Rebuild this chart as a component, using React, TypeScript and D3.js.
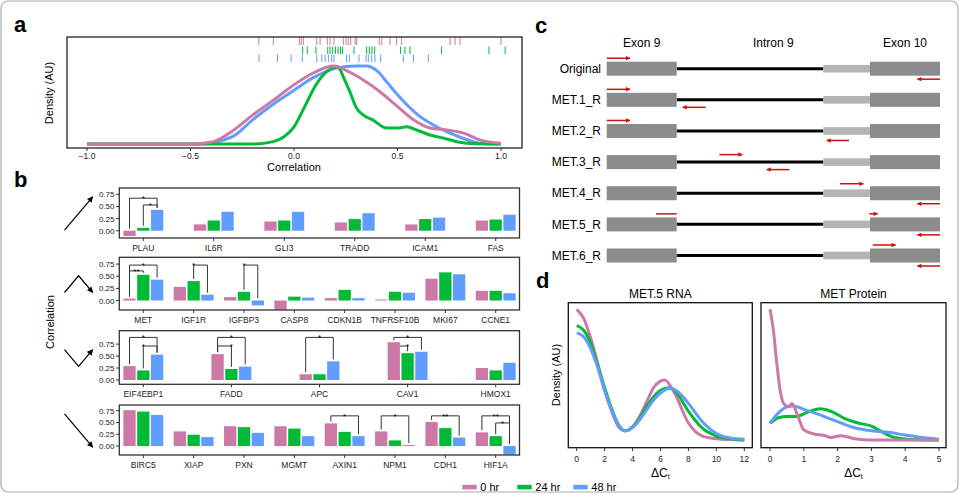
import React from "react";
import * as d3 from "d3";

const FONT = "Liberation Sans, Arial, Helvetica, sans-serif";
const seriesNames = ["0 hr", "24 hr", "48 hr"];
const seriesColors = ["#CC79A7", "#00BA38", "#619CFF"];

// ---- panel a: rug values and density curves (correlation, relative density)
const rug0 = [-0.17, -0.1, 0.026, 0.035, 0.045, 0.11, 0.126, 0.161, 0.174, 0.193, 0.238, 0.251, 0.262, 0.274, 0.295, 0.303, 0.412, 0.424, 0.464, 0.496, 0.52, 0.754, 0.778, 0.802, 1.0];
const rug24 = [0.042, 0.064, 0.106, 0.163, 0.174, 0.187, 0.2, 0.213, 0.225, 0.235, 0.29, 0.351, 0.364, 0.377, 0.39, 0.515, 0.536, 0.56, 0.713, 0.942, 1.02];
const rug48 = [-0.169, -0.08, -0.014, 0.04, 0.11, 0.134, 0.15, 0.166, 0.182, 0.193, 0.254, 0.267, 0.314, 0.348, 0.359, 0.375, 0.391, 0.419, 0.528, 0.577, 0.649];

const densA0: [number, number][] = [[-1, 0], [-0.5, 0], [-0.39, 0.03], [-0.29, 0.18], [-0.2, 0.37], [-0.1, 0.56], [0, 0.76], [0.1, 0.92], [0.19, 1.0], [0.27, 0.92], [0.335, 0.82], [0.415, 0.67], [0.496, 0.49], [0.577, 0.31], [0.657, 0.205], [0.738, 0.18], [0.82, 0.14], [0.9, 0.05], [1.0, 0.01]];
const densA24: [number, number][] = [[-1, 0], [-0.2, 0], [-0.1, 0.03], [-0.05, 0.09], [0, 0.22], [0.05, 0.47], [0.1, 0.73], [0.14, 0.88], [0.21, 0.99], [0.245, 0.82], [0.27, 0.67], [0.3, 0.47], [0.335, 0.37], [0.38, 0.31], [0.447, 0.205], [0.496, 0.205], [0.545, 0.22], [0.593, 0.18], [0.657, 0.115], [0.72, 0.077], [0.786, 0.03], [0.883, 0.003], [1.0, 0]];
const densA48: [number, number][] = [[-1, 0], [-0.45, 0], [-0.3, 0.09], [-0.2, 0.31], [-0.1, 0.51], [0, 0.69], [0.1, 0.86], [0.2, 0.97], [0.3, 1.0], [0.35, 1.0], [0.4, 0.94], [0.45, 0.79], [0.5, 0.63], [0.55, 0.49], [0.6, 0.37], [0.7, 0.205], [0.8, 0.09], [0.9, 0.01], [1.0, 0]];
const corrTicks = [-1, -0.5, 0, 0.5, 1];

// ---- panel b: gene groups and correlations
const genesUp = ["PLAU", "IL6R", "GLI3", "TRADD", "ICAM1", "FAS"];
const up0 = [-0.11, 0.13, 0.19, 0.17, 0.13, 0.21];
const up24 = [0.06, 0.21, 0.21, 0.24, 0.24, 0.23];
const up48 = [0.43, 0.39, 0.39, 0.36, 0.27, 0.33];

const genesPeak = ["MET", "IGF1R", "IGFBP3", "CASP8", "CDKN1B", "TNFRSF10B", "MKI67", "CCNE1"];
const peak0 = [0.04, 0.28, 0.07, -0.19, 0.05, 0.02, 0.45, 0.2];
const peak24 = [0.53, 0.4, 0.18, 0.08, 0.22, 0.18, 0.58, 0.2];
const peak48 = [0.43, 0.12, -0.1, 0.06, 0.05, 0.16, 0.54, 0.15];

const genesDip = ["EIF4EBP1", "FADD", "APC", "CAV1", "HMOX1"];
const dip0 = [0.29, 0.54, 0.12, 0.79, 0.25];
const dip24 = [0.2, 0.23, 0.12, 0.56, 0.2];
const dip48 = [0.53, 0.28, 0.39, 0.59, 0.36];

const genesDown = ["BIRC5", "XIAP", "PXN", "MGMT", "AXIN1", "NPM1", "CDH1", "HIF1A"];
const down0 = [0.76, 0.31, 0.42, 0.42, 0.48, 0.31, 0.51, 0.29];
const down24 = [0.73, 0.24, 0.4, 0.37, 0.3, 0.12, 0.38, 0.21];
const down48 = [0.66, 0.19, 0.28, 0.21, 0.21, 0.02, 0.18, -0.18];

// [gene, from series, to series, bracket height, label]
const sigUp: [string, number, number, number, string][] = [["PLAU", 0, 2, 0.67, "*"], ["PLAU", 1, 2, 0.53, "*"]];
const sigPeak: [string, number, number, number, string][] = [["MET", 0, 2, 0.73, "*"], ["MET", 0, 1, 0.61, "**"], ["IGF1R", 1, 2, 0.73, "*"], ["IGFBP3", 1, 2, 0.73, "*"]];
const sigDip: [string, number, number, number, string][] = [["EIF4EBP1", 0, 2, 0.89, "*"], ["EIF4EBP1", 1, 2, 0.71, "*"], ["FADD", 0, 2, 0.89, "*"], ["FADD", 0, 1, 0.71, "*"], ["APC", 0, 2, 0.89, "*"], ["CAV1", 0, 2, 0.89, "*"], ["CAV1", 0, 1, 0.71, "*"]];
const sigDown: [string, number, number, number, string][] = [["AXIN1", 0, 2, 0.64, "*"], ["NPM1", 0, 2, 0.64, "*"], ["CDH1", 0, 2, 0.64, "**"], ["HIF1A", 0, 2, 0.64, "**"], ["HIF1A", 1, 2, 0.49, "*"]];

const rowLimits: [number, number][] = [[-0.15, 0.88], [-0.195, 0.89], [-0.09, 1.03], [-0.19, 0.87]];
const corrBarTicks = [0, 0.25, 0.5, 0.75];
// trend glyphs, normalised
const trendUp = [[0, -1], [1, 1]];
const trendPeak = [[0, -0.5], [0.5, 0.5], [1, -0.5]];
const trendDip = [[0, 0.5], [0.5, -0.5], [1, 0.5]];
const trendDown = [[0, 1], [1, -1]];

// ---- panel c: transcript model (relative position 0-100)
const constructs = ["Original", "MET.1_R", "MET.2_R", "MET.3_R", "MET.4_R", "MET.5_R", "MET.6_R"];
const exon9 = [0, 21];
const intron9 = [21, 65];
const retained = [65, 79];
const exon10 = [79, 100];
// [construct, start, end, arrowhead, strand side]
const primers: [string, number, number, boolean, string][] = [
  ["Original", 0, 7, true, "up"], ["Original", 100, 93.2, true, "down"],
  ["MET.1_R", 0, 7, true, "up"], ["MET.1_R", 29.7, 22.8, true, "down"],
  ["MET.2_R", 0, 7, true, "up"], ["MET.2_R", 72.7, 66, true, "down"],
  ["MET.3_R", 33.8, 40.7, true, "up"], ["MET.3_R", 54.8, 48, true, "down"],
  ["MET.4_R", 70, 77, true, "up"], ["MET.4_R", 100, 93.2, true, "down"],
  ["MET.5_R", 14.8, 21, false, "up"], ["MET.5_R", 78.8, 81.3, true, "up"], ["MET.5_R", 100, 93.2, true, "down"],
  ["MET.6_R", 79.8, 86.7, true, "up"], ["MET.6_R", 100, 93.2, true, "down"],
];

// ---- panel d: density of delta Ct
const rna0: [number, number][] = [[0, 1.0], [0.5, 0.93], [1, 0.78], [1.5, 0.59], [2, 0.38], [2.5, 0.22], [3, 0.1], [3.5, 0.07], [4, 0.1], [4.5, 0.18], [5, 0.29], [5.5, 0.4], [6, 0.45], [6.3, 0.46], [7, 0.36], [8, 0.13], [9, 0.03], [10, 0.01], [11, 0.003], [12, 0]];
const rna24: [number, number][] = [[0, 0.875], [0.5, 0.84], [1, 0.74], [1.5, 0.57], [2, 0.4], [2.5, 0.24], [3, 0.115], [3.5, 0.07], [4, 0.1], [4.5, 0.166], [5, 0.255], [5.5, 0.33], [6, 0.38], [6.6, 0.4], [7, 0.38], [8, 0.22], [9, 0.09], [10, 0.03], [11, 0.01], [12, 0]];
const rna48: [number, number][] = [[0, 0.82], [0.5, 0.79], [1, 0.7], [1.5, 0.556], [2, 0.38], [2.5, 0.23], [3, 0.115], [3.5, 0.07], [4, 0.095], [4.5, 0.153], [5, 0.23], [5.5, 0.306], [6, 0.36], [6.7, 0.395], [7.5, 0.344], [8, 0.28], [9, 0.14], [10, 0.05], [11, 0.015], [12, 0.005]];
const prot0: [number, number][] = [[0, 1.0], [0.1, 0.84], [0.2, 0.59], [0.3, 0.38], [0.4, 0.28], [0.55, 0.255], [0.65, 0.28], [0.8, 0.2], [1.0, 0.077], [1.3, 0.046], [1.6, 0.035], [1.8, 0.02], [2.1, 0.033], [2.5, 0.01], [3, 0], [5, 0]];
const prot24: [number, number][] = [[0, 0.128], [0.25, 0.17], [0.5, 0.18], [0.8, 0.18], [1.0, 0.2], [1.3, 0.23], [1.5, 0.24], [1.8, 0.22], [2.2, 0.166], [2.6, 0.13], [3.0, 0.107], [3.3, 0.064], [3.6, 0.026], [4.0, 0.008], [4.5, 0.002], [5, 0]];
const prot48: [number, number][] = [[0, 0.128], [0.3, 0.22], [0.6, 0.26], [0.8, 0.255], [1.0, 0.235], [1.5, 0.19], [2.0, 0.14], [2.5, 0.094], [3.0, 0.071], [3.5, 0.059], [4.0, 0.038], [4.5, 0.02], [5.0, 0.005]];
const rnaTicks = [0, 2, 4, 6, 8, 10, 12];
const protTicks = [0, 1, 2, 3, 4, 5];

const fmt2 = d3.format(".2f");
const fmt1 = d3.format(".1f");

function BarRow({ genes, vals, sig, limits, top, bottom, trend }) {
  const x = d3.scalePoint().domain(genes).range([143.3, 495.7]);
  const y = d3.scaleLinear().domain(limits).range([bottom, top]);
  const off = [-13.8, 0, 13.8];
  const bw = 12.3;
  const gx = d3.scaleLinear().domain([0, 1]).range([64.5, 92.7]);
  const cy = (top + bottom) / 2 + 0.5;
  const gy = d3.scaleLinear().domain([-1, 1]).range([cy + 16.7, cy - 16.7]);
  const glyph = d3.line().x((d) => gx(d[0])).y((d) => gy(d[1]));
  return (
    <g>
      <path d={glyph(trend)} fill="none" stroke="#000" strokeWidth={1.2} markerEnd="url(#ahBlack)" />
      {sig.map(([g, a, b, lvl, lab], i) => {
        const gi = genes.indexOf(g);
        const x1 = x(g) + off[a];
        const x2 = x(g) + off[b];
        const yl = y(lvl);
        const l1 = Math.max(yl, y(Math.max(vals[a][gi], 0)) - 2);
        const l2 = Math.max(yl, y(Math.max(vals[b][gi], 0)) - 2);
        // stars sit at the group centre unless a neighbouring bracket is too close
        const crowded = sig.some((s, j) => j !== i && s[0] === g && Math.abs(y(s[3]) - yl) < 8);
        const sx = crowded && lvl < d3.max(sig.filter((s) => s[0] === g), (s) => s[3]) ? (x1 + x2) / 2 : x(g);
        return (
          <g key={i}>
            <path d={`M${x1},${l1}V${yl}H${x2}V${l2}`} fill="none" stroke="#333" strokeWidth={1} />
            <text x={sx} y={yl + 2.8} fontSize={8} textAnchor="middle">{lab}</text>
          </g>
        );
      })}
      {genes.map((g, gi) =>
        vals.map((v, si) => (
          <rect key={g + si} x={x(g) + off[si] - bw / 2} width={bw}
            y={y(Math.max(0, v[gi]))} height={Math.abs(y(v[gi]) - y(0))} fill={seriesColors[si]} />
        ))
      )}
      <rect x={119.3} y={top} width={400.2} height={bottom - top} fill="none" stroke="#333" strokeWidth={1.3} />
      {corrBarTicks.map((t) => (
        <g key={t}>
          <line x1={116} x2={119.3} y1={y(t)} y2={y(t)} stroke="#333" />
          <text x={114.5} y={y(t) + 3} fontSize={8} textAnchor="end" fill="#222">{fmt2(t)}</text>
        </g>
      ))}
      {genes.map((g) => (
        <g key={g}>
          <line x1={x(g)} x2={x(g)} y1={bottom} y2={bottom + 3} stroke="#333" />
          <text x={x(g)} y={bottom + 12.5} fontSize={8.5} textAnchor="middle" fill="#222">{g}</text>
        </g>
      ))}
    </g>
  );
}

function DensityPanel({ x, ticks, curves, left, right, title, tickFmt }) {
  const y = d3.scaleLinear().domain([0, 1]).range([440, 309.3]);
  const line = d3.line().x((d) => x(d[0])).y((d) => y(d[1])).curve(d3.curveMonotoneX);
  const cx = (left + right) / 2;
  return (
    <g>
      <text x={cx} y={298.3} fontSize={12} textAnchor="middle">{title}</text>
      {curves.map((c, i) => (
        <path key={i} d={line(c.data)} fill="none" stroke={seriesColors[c.s]} strokeWidth={3} strokeLinejoin="round" />
      ))}
      <rect x={left} y={302.7} width={right - left} height={145} fill="none" stroke="#111" strokeWidth={1.3} />
      {ticks.map((t) => (
        <g key={t}>
          <line x1={x(t)} x2={x(t)} y1={447.7} y2={451} stroke="#333" />
          <text x={x(t)} y={462} fontSize={8.5} textAnchor="middle" fill="#222">{tickFmt(t)}</text>
        </g>
      ))}
      <text x={cx} y={476.5} fontSize={12} textAnchor="middle">
        ΔC<tspan fontSize={7} dy={2.5}>t</tspan>
      </text>
    </g>
  );
}

export default function App() {
  // panel a
  const xA = d3.scaleLinear().domain([-1, 1]).range([87, 501]);
  const yA = d3.scaleLinear().domain([0, 1]).range([144, 66]);
  const lineA = d3.line<[number, number]>().x((d) => xA(d[0])).y((d) => yA(d[1])).curve(d3.curveMonotoneX);
  const rugs = [rug0, rug24, rug48];
  const rugY = [[37.5, 45], [46.5, 54], [54.5, 62]];

  // panel c
  const xC = d3.scaleLinear().domain([0, 100]).range([606.7, 940]);
  const yC = d3.scalePoint().domain(constructs).range([68.7, 255.5]);
  const primerOffset = (a, b) => {
    const m = (a + b) / 2;
    if (m < exon9[1] || m > exon10[0]) return 10.5;
    if (m > retained[0]) return 9.5;
    return 7.5;
  };

  const rows = [
    { genes: genesUp, vals: [up0, up24, up48], sig: sigUp, top: 188, bottom: 238, trend: trendUp },
    { genes: genesPeak, vals: [peak0, peak24, peak48], sig: sigPeak, top: 257.3, bottom: 310, trend: trendPeak },
    { genes: genesDip, vals: [dip0, dip24, dip48], sig: sigDip, top: 330.7, bottom: 384.3, trend: trendDip },
    { genes: genesDown, vals: [down0, down24, down48], sig: sigDown, top: 405, bottom: 455, trend: trendDown },
  ];

  const xL = d3.scaleLinear().domain([0, 12]).range([576.7, 744.3]);
  const xR = d3.scaleLinear().domain([0, 5]).range([770, 939]);

  return (
    <svg width={963} height={494} style={{ position: "absolute", left: 0, top: 0, fontFamily: FONT, background: "#fff" }}>
      <defs>
        <marker id="ahBlack" viewBox="0 0 10 10" refX="9" refY="5" markerWidth="7" markerHeight="6" markerUnits="userSpaceOnUse" orient="auto">
          <path d="M0,0 L10,5 L0,10 z" fill="#000" />
        </marker>
        <marker id="ahRed" viewBox="0 0 10 10" refX="9" refY="5" markerWidth="6" markerHeight="4.5" markerUnits="userSpaceOnUse" orient="auto">
          <path d="M0,0 L10,5 L0,10 z" fill="#D01010" />
        </marker>
      </defs>
      <rect x={1} y={1} width={957} height={491} rx={7} fill="#fff" stroke="#aaa" strokeWidth={1.2} />

      {/* panel labels */}
      <text x={14} y={32} fontSize={22} fontWeight="bold">a</text>
      <text x={14} y={187} fontSize={22} fontWeight="bold">b</text>
      <text x={535} y={33} fontSize={22} fontWeight="bold">c</text>
      <text x={536} y={288} fontSize={22} fontWeight="bold">d</text>

      {/* panel a */}
      {rugs.map((r, i) =>
        r.map((v, j) => (
          <line key={i + "-" + j} x1={xA(v)} x2={xA(v)} y1={rugY[i][0]} y2={rugY[i][1]} stroke={seriesColors[i]} strokeWidth={1} />
        ))
      )}
      <path d={lineA(densA48)} fill="none" stroke={seriesColors[2]} strokeWidth={3} />
      <path d={lineA(densA24)} fill="none" stroke={seriesColors[1]} strokeWidth={3} />
      <path d={lineA(densA0)} fill="none" stroke={seriesColors[0]} strokeWidth={3} />
      <rect x={67} y={37} width={455} height={111} fill="none" stroke="#111" strokeWidth={1.2} />
      {corrTicks.map((t) => (
        <g key={t}>
          <line x1={xA(t)} x2={xA(t)} y1={148} y2={151} stroke="#333" />
          <text x={xA(t)} y={159} fontSize={8.5} textAnchor="middle" fill="#222">{fmt1(t)}</text>
        </g>
      ))}
      <text x={xA(0)} y={171} fontSize={11} textAnchor="middle">Correlation</text>
      <text transform="translate(53,93) rotate(-90)" fontSize={11} textAnchor="middle">Density (AU)</text>

      {/* panel b */}
      {rows.map((r, i) => (
        <BarRow key={i} genes={r.genes} vals={r.vals} sig={r.sig} limits={rowLimits[i]} top={r.top} bottom={r.bottom} trend={r.trend} />
      ))}
      <text transform="translate(54,322) rotate(-90)" fontSize={11} textAnchor="middle">Correlation</text>

      {/* panel c */}
      <text x={xC(10.5)} y={46.5} fontSize={12} textAnchor="middle">Exon 9</text>
      <text x={xC(50)} y={46.5} fontSize={12} textAnchor="middle">Intron 9</text>
      <text x={xC(89.5)} y={46.5} fontSize={12} textAnchor="middle">Exon 10</text>
      {constructs.map((c) => {
        const cy = yC(c);
        return (
          <g key={c}>
            <text x={601} y={cy + 4.2} fontSize={12} textAnchor="end">{c}</text>
            <line x1={xC(intron9[0])} x2={xC(intron9[1])} y1={cy} y2={cy} stroke="#000" strokeWidth={3} />
            <rect x={xC(retained[0])} y={cy - 3.8} width={xC(retained[1]) - xC(retained[0])} height={7.6} fill="#B4B4B4" />
            <rect x={xC(exon9[0])} y={cy - 7} width={xC(exon9[1]) - xC(exon9[0])} height={14} fill="#8C8C8C" />
            <rect x={xC(exon10[0])} y={cy - 7} width={xC(exon10[1]) - xC(exon10[0])} height={14} fill="#8C8C8C" />
          </g>
        );
      })}
      {primers.map(([c, a, b, head, side], i) => {
        const o = primerOffset(a, b);
        const py = yC(c) + (side === "up" ? -o : o);
        return (
          <line key={i} x1={xC(a)} x2={xC(b)} y1={py} y2={py} stroke="#D01010" strokeWidth={1.5}
            markerEnd={head ? "url(#ahRed)" : undefined} />
        );
      })}

      {/* panel d */}
      <DensityPanel x={xL} ticks={rnaTicks} left={568.3} right={752.3} title="MET.5 RNA" tickFmt={(t) => String(t)}
        curves={[{ data: rna0, s: 0 }, { data: rna24, s: 1 }, { data: rna48, s: 2 }]} />
      <DensityPanel x={xR} ticks={protTicks} left={761} right={946} title="MET Protein" tickFmt={(t) => String(t)}
        curves={[{ data: prot24, s: 1 }, { data: prot48, s: 2 }, { data: prot0, s: 0 }]} />
      <text transform="translate(559.5,375) rotate(-90)" fontSize={11} textAnchor="middle">Density (AU)</text>

      {/* legend */}
      {seriesNames.map((n, i) => {
        const lx = [462.3, 517.3, 573.3][i];
        return (
          <g key={n}>
            <rect x={lx} y={484.8} width={14.4} height={4.6} fill={seriesColors[i]} />
            <text x={lx + 18} y={491} fontSize={11}>{n}</text>
          </g>
        );
      })}
    </svg>
  );
}
